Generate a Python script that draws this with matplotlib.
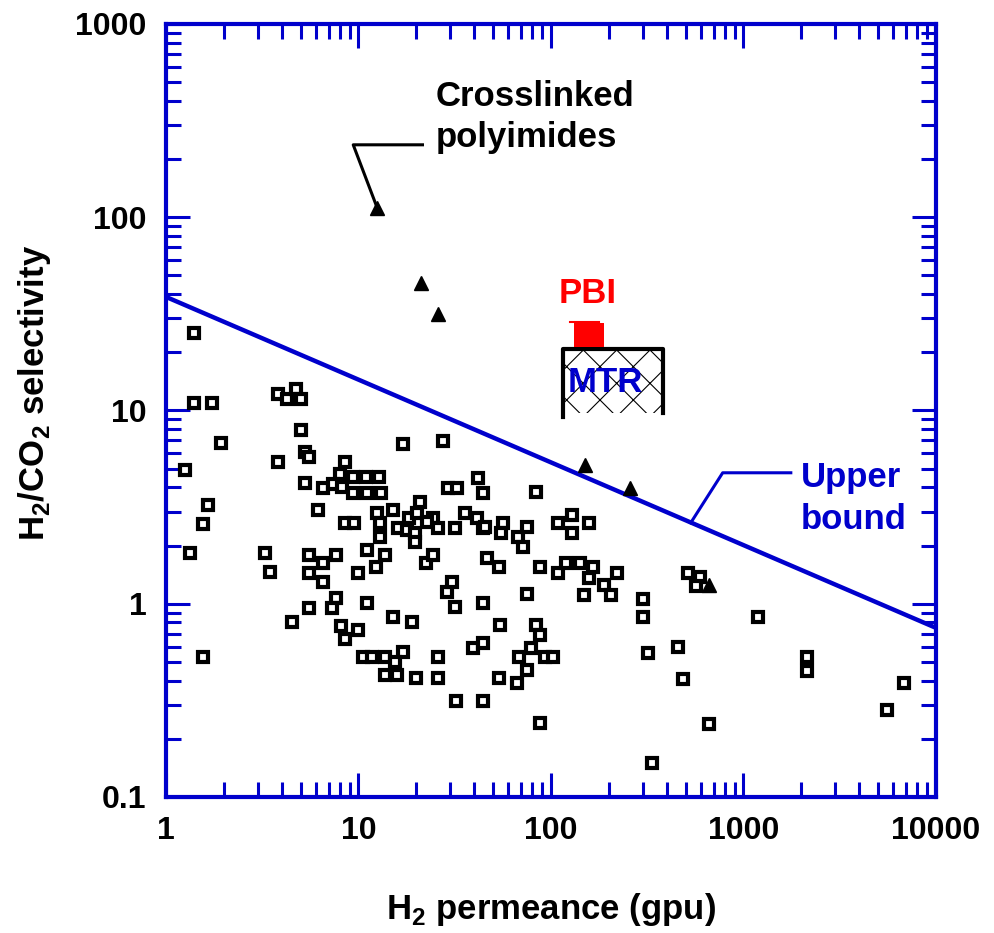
import matplotlib
matplotlib.use('Agg')
import matplotlib.pyplot as plt
from matplotlib.patches import Rectangle
from matplotlib.ticker import FixedLocator, FuncFormatter, NullFormatter, LogLocator

plt.rcParams['font.family'] = ['Liberation Sans', 'DejaVu Sans']
plt.rcParams['font.weight'] = 'bold'
plt.rcParams['mathtext.fontset'] = 'custom'
plt.rcParams['mathtext.rm'] = 'Liberation Sans:bold'
plt.rcParams['mathtext.bf'] = 'Liberation Sans:bold'
plt.rcParams['hatch.linewidth'] = 0.8

BLUE = '#0000cc'

# polymer data (open squares): H2 permeance (gpu), H2/CO2 selectivity
poly_perm = [1.40, 1.40, 1.73, 1.93, 1.26, 1.65, 1.56, 1.33, 1.56,
             3.27, 3.47, 3.83, 4.26, 4.74, 5.04, 5.04, 5.28, 5.54, 3.83, 5.28, 6.18, 4.52,
             8.53, 8.04, 6.56, 7.4, 8.2, 9.39, 10.97, 12.8, 9.39, 11.1, 13.1,
             8.53, 9.5, 12.5, 13.0, 13.0, 15.2, 20.9, 18.2, 20.2, 16.1, 17.9, 19.7, 19.7, 24.5, 26.0, 22.8,
             31.9, 35.9, 41.5, 44.6, 29.3, 32.6, 42.0, 44.6, 17.1, 27.6,
             5.54, 6.56, 7.66, 5.54, 6.56, 9.97, 11.1, 13.8, 12.4, 22.3, 24.5, 29.0, 30.7, 46.7, 54.0,
             5.54, 7.66, 7.3, 11.1, 8.13, 8.53, 9.97, 15.2, 19.0,
             10.6, 11.8, 13.8, 17.1, 15.5, 13.8, 15.9, 20.0, 26.0, 26.0, 32.2, 44.6,
             31.9, 44.6, 54.6, 39.5, 44.6, 54.0, 67.0, 75.5, 68.5, 79.2, 93.6, 103, 84.1, 88.2, 88.2, 75.5, 88.2,
             45.6, 56.6, 55.3, 67.8, 75.5, 71.9, 109, 128, 128, 157, 84.1,
             109, 120, 141, 166, 157, 219, 188, 206, 149, 299, 299, 318, 455,
             513, 592, 565, 483, 660, 333, 1186, 2133, 2133, 6820, 5560]
poly_sel = [25.2, 10.95, 10.95, 6.8, 4.93, 3.25, 2.59, 1.84, 0.532,
            1.84, 1.46, 12.1, 11.5, 12.9, 11.5, 7.94, 6.11, 5.76, 5.43, 4.23, 3.06, 0.807,
            5.43, 4.70, 3.98, 4.17, 4.0, 4.54, 4.54, 4.54, 3.75, 3.75, 3.75,
            2.62, 2.62, 2.96, 2.62, 2.22, 3.06, 3.37, 2.79, 2.96, 2.47, 2.41, 2.33, 2.09, 2.79, 2.47, 2.66,
            2.47, 2.96, 2.79, 2.47, 3.98, 3.98, 4.49, 3.75, 6.73, 6.97,
            1.79, 1.63, 1.79, 1.45, 1.30, 1.45, 1.90, 1.79, 1.55, 1.63, 1.79, 1.15, 1.30, 1.73, 1.54,
            0.95, 1.07, 0.95, 1.01, 0.77, 0.66, 0.73, 0.857, 0.807,
            0.532, 0.532, 0.532, 0.565, 0.50, 0.43, 0.43, 0.414, 0.414, 0.532, 0.315, 0.315,
            0.96, 1.01, 0.778, 0.592, 0.629, 0.414, 0.39, 0.456, 0.532, 0.592, 0.532, 0.532, 0.78, 0.69, 0.242, 1.12, 1.54,
            2.50, 2.62, 2.33, 2.22, 2.50, 1.97, 2.62, 2.89, 2.33, 2.62, 3.78,
            1.45, 1.63, 1.63, 1.54, 1.36, 1.45, 1.25, 1.11, 1.11, 1.06, 0.857, 0.558, 0.60,
            1.45, 1.38, 1.24, 0.409, 0.239, 0.150, 0.857, 0.532, 0.450, 0.39, 0.283]

# crosslinked polyimides (filled triangles)
xl_perm = [12.5, 21.2, 26.0, 151, 256, 660]
xl_sel = [112, 45.8, 31.6, 5.24, 3.98, 1.25]

# upper bound line end points
ub_perm = [1, 10000]
ub_sel = [38.7, 0.75]

# PBI region and MTR box (perm range, selectivity range)
pbi_perm = [131, 188]
pbi_sel = [21.4, 28.4]
mtr_perm = [115, 380]
mtr_sel = [9.73, 20.9]

x_ticks = [1, 10, 100, 1000, 10000]
y_ticks = [0.1, 1, 10, 100, 1000]

fig = plt.figure(figsize=(9.94, 9.33), dpi=100)
ax = fig.add_axes([0.167, 0.1458, 0.7746, 0.8285])
ax.set_xscale('log')
ax.set_yscale('log')
ax.set_xlim(1, 10000)
ax.set_ylim(0.1, 1000)

# MTR hatched box
ax.add_patch(Rectangle((mtr_perm[0], mtr_sel[0]), mtr_perm[1] - mtr_perm[0], mtr_sel[1] - mtr_sel[0],
                       fill=False, hatch='x', edgecolor='black', lw=0, zorder=2))
ax.plot([mtr_perm[0], mtr_perm[0], mtr_perm[1], mtr_perm[1]],
        [mtr_sel[0] * 0.95, mtr_sel[1], mtr_sel[1], mtr_sel[0]], color='black', lw=3, zorder=3)
ax.text(192, 13.9, 'MTR', color=BLUE, fontsize=25, fontweight='bold',
        ha='center', va='center', zorder=4)

# PBI
ax.add_patch(Rectangle((pbi_perm[0], pbi_sel[0]), pbi_perm[1] - pbi_perm[0], pbi_sel[1] - pbi_sel[0],
                       facecolor='red', edgecolor='none', zorder=3))
ax.plot([125, 178], [28.6, 28.6], color='red', lw=1.5, zorder=3)
ax.text(155, 40.2, 'PBI', color='red', fontsize=25, fontweight='bold', ha='center', va='center')

# upper bound
ax.plot(ub_perm, ub_sel, color=BLUE, lw=3.2, zorder=2)
ax.plot([532, 780, 1762], [2.62, 4.76, 4.76], color=BLUE, lw=2.2)
ax.text(1986, 4.49, 'Upper', color=BLUE, fontsize=25, fontweight='bold', ha='left', va='center')
ax.text(1986, 2.72, 'bound', color=BLUE, fontsize=25, fontweight='bold', ha='left', va='center')

# data points
ax.plot(poly_perm, poly_sel, linestyle='none', marker='s', ms=6.8, mfc='white', mec='black', mew=3, zorder=5)
ax.plot(xl_perm, xl_sel, linestyle='none', marker='^', ms=10, color='black', zorder=6)

# crosslinked polyimides label
ax.plot([12.5, 9.39, 21.5], [112, 237, 237], color='black', lw=2.2)
ax.text(25.1, 420, 'Crosslinked', fontsize=25, fontweight='bold', ha='left', va='center')
ax.text(25.1, 258, 'polyimides', fontsize=25, fontweight='bold', ha='left', va='center')

# axes styling
for sp in ax.spines.values():
    sp.set_color(BLUE)
    sp.set_linewidth(3)
ax.xaxis.set_major_locator(FixedLocator(x_ticks))
ax.yaxis.set_major_locator(FixedLocator(y_ticks))
ax.xaxis.set_minor_locator(LogLocator(base=10, subs=range(2, 10), numticks=20))
ax.yaxis.set_minor_locator(LogLocator(base=10, subs=range(2, 10), numticks=20))
fmt = FuncFormatter(lambda v, p: '{:g}'.format(v))
ax.xaxis.set_major_formatter(fmt)
ax.yaxis.set_major_formatter(fmt)
ax.xaxis.set_minor_formatter(NullFormatter())
ax.yaxis.set_minor_formatter(NullFormatter())
ax.tick_params(which='both', direction='in', top=True, right=True, color=BLUE, width=2.2)
ax.tick_params(which='major', length=17, labelsize=23, pad=14)
ax.tick_params(which='minor', length=11)
for lab in ax.get_xticklabels() + ax.get_yticklabels():
    lab.set_fontweight('bold')

ax.set_xlabel(r'H$_\mathbf{2}$ permeance (gpu)', fontsize=25, fontweight='bold', labelpad=32)
ax.set_ylabel(r'H$_\mathbf{2}$/CO$_\mathbf{2}$ selectivity', fontsize=25, fontweight='bold')
ax.yaxis.set_label_coords(-0.147, 0.523)

fig.savefig('out.png', dpi=100)
